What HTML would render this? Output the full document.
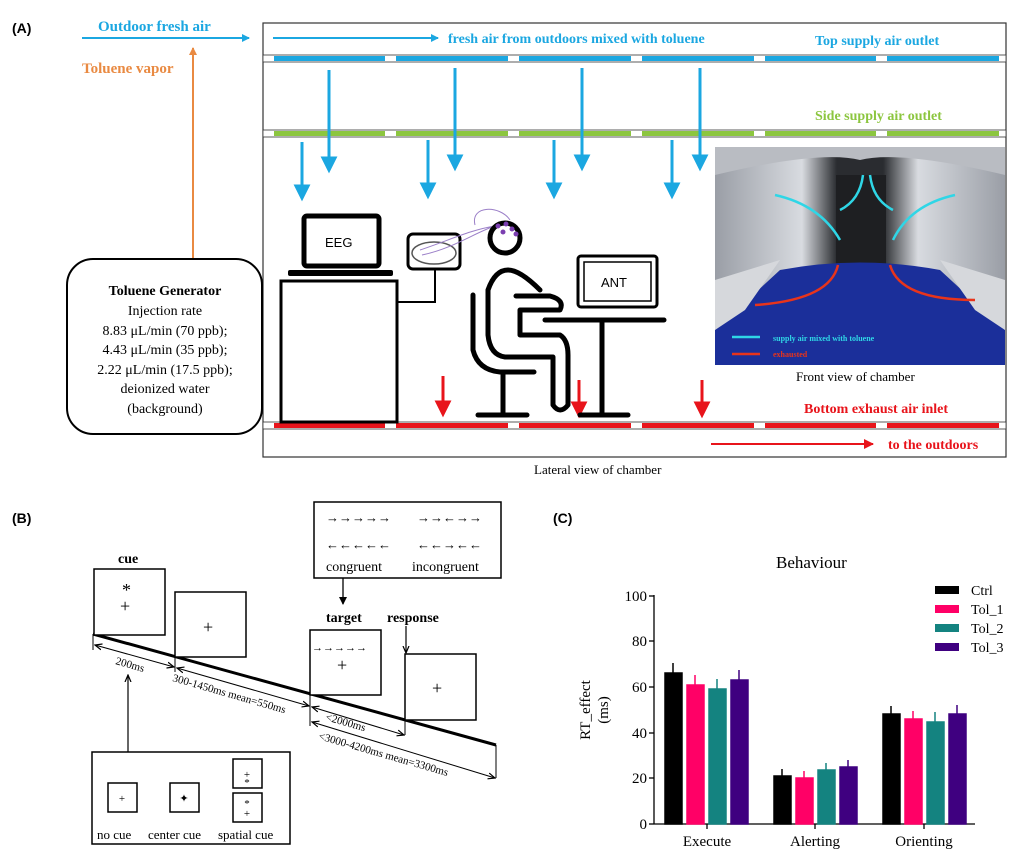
<!DOCTYPE html>
<html><head><meta charset="utf-8"><style>
body{margin:0;background:#fff}
svg{display:block}
text{font-family:"Liberation Serif",serif}
</style></head><body>
<svg width="1024" height="856" viewBox="0 0 1024 856" xmlns="http://www.w3.org/2000/svg">
<defs>
<marker id="ab" markerWidth="8" markerHeight="8" refX="7" refY="4" orient="auto" markerUnits="userSpaceOnUse"><path d="M0,0L8,4L0,8z" fill="#1ba7e1"/></marker>
<marker id="ar" markerWidth="10" markerHeight="10" refX="9" refY="5" orient="auto" markerUnits="userSpaceOnUse"><path d="M0,0L10,5L0,10z" fill="#e8141b"/></marker>
<marker id="ao" markerWidth="8" markerHeight="8" refX="7" refY="4" orient="auto" markerUnits="userSpaceOnUse"><path d="M0,0L8,4L0,8z" fill="#e98a42"/></marker>
<marker id="ak" markerWidth="8" markerHeight="8" refX="7" refY="4" orient="auto-start-reverse" markerUnits="userSpaceOnUse"><path d="M0,1L7,4L0,7" fill="none" stroke="#000" stroke-width="1.2"/></marker>
<marker id="ak2" markerWidth="8" markerHeight="8" refX="7" refY="4" orient="auto" markerUnits="userSpaceOnUse"><path d="M0,0L8,4L0,8z" fill="#000"/></marker>
<linearGradient id="wall" x1="0" x2="1"><stop offset="0" stop-color="#9a9ea6"/><stop offset=".3" stop-color="#d8dbe0"/><stop offset=".42" stop-color="#2a2c30"/><stop offset=".58" stop-color="#2a2c30"/><stop offset=".7" stop-color="#d8dbe0"/><stop offset="1" stop-color="#9a9ea6"/></linearGradient>
</defs>
<!-- Panel A -->
<text x="12" y="33" font-weight="bold" font-size="14" style="font-family:'Liberation Sans',sans-serif">(A)</text>
<text x="98" y="31" font-weight="bold" font-size="15" fill="#1ba7e1">Outdoor fresh air</text>
<line x1="82" y1="38" x2="249" y2="38" stroke="#1ba7e1" stroke-width="2" marker-end="url(#ab)"/>
<text x="82" y="73" font-weight="bold" font-size="15" fill="#e98a42">Toluene vapor</text>
<line x1="193" y1="259" x2="193" y2="48" stroke="#e98a42" stroke-width="2" marker-end="url(#ao)"/>
<rect x="263" y="23" width="743" height="434" fill="none" stroke="#333" stroke-width="1.2"/>
<line x1="273" y1="38" x2="438" y2="38" stroke="#1ba7e1" stroke-width="2" marker-end="url(#ab)"/>
<text x="448" y="43" font-weight="bold" font-size="14" fill="#1ba7e1">fresh air from outdoors mixed with toluene</text>
<text x="815" y="45" font-weight="bold" font-size="14" fill="#1ba7e1">Top supply air outlet</text>
<text x="815" y="120" font-weight="bold" font-size="14" fill="#8cc63f">Side supply air outlet</text>
<text x="804" y="413" font-weight="bold" font-size="14" fill="#e8141b">Bottom exhaust air inlet</text>
<line x1="711" y1="444" x2="873" y2="444" stroke="#e8141b" stroke-width="2" marker-end="url(#ar)"/>
<text x="888" y="449" font-weight="bold" font-size="14" fill="#e8141b">to the outdoors</text>
<text x="534" y="474" font-size="13">Lateral view of chamber</text>
<g stroke="#333" stroke-width="0.8">
<rect x="263" y="55" width="743" height="7" fill="#fff"/>
<rect x="263" y="130" width="743" height="7" fill="#fff"/>
<rect x="263" y="422" width="743" height="7" fill="#fff"/>
</g>
<g>
<rect x="274" y="56" width="111" height="5" fill="#1ba7e1"/><rect x="396" y="56" width="112" height="5" fill="#1ba7e1"/><rect x="519" y="56" width="112" height="5" fill="#1ba7e1"/><rect x="642" y="56" width="112" height="5" fill="#1ba7e1"/><rect x="765" y="56" width="111" height="5" fill="#1ba7e1"/><rect x="887" y="56" width="112" height="5" fill="#1ba7e1"/>
<rect x="274" y="131" width="111" height="5" fill="#8cc63f"/><rect x="396" y="131" width="112" height="5" fill="#8cc63f"/><rect x="519" y="131" width="112" height="5" fill="#8cc63f"/><rect x="642" y="131" width="112" height="5" fill="#8cc63f"/><rect x="765" y="131" width="111" height="5" fill="#8cc63f"/><rect x="887" y="131" width="112" height="5" fill="#8cc63f"/>
<rect x="274" y="423" width="111" height="5" fill="#e8141b"/><rect x="396" y="423" width="112" height="5" fill="#e8141b"/><rect x="519" y="423" width="112" height="5" fill="#e8141b"/><rect x="642" y="423" width="112" height="5" fill="#e8141b"/><rect x="765" y="423" width="111" height="5" fill="#e8141b"/><rect x="887" y="423" width="112" height="5" fill="#e8141b"/>
</g>
<g stroke="#1ba7e1" stroke-width="3" fill="#1ba7e1">
<line x1="329" y1="70" x2="329" y2="160"/><path d="M323,158L335,158L329,170z"/>
<line x1="455" y1="68" x2="455" y2="158"/><path d="M449,156L461,156L455,168z"/>
<line x1="582" y1="68" x2="582" y2="158"/><path d="M576,156L588,156L582,168z"/>
<line x1="700" y1="68" x2="700" y2="158"/><path d="M694,156L706,156L700,168z"/>
<line x1="302" y1="142" x2="302" y2="188"/><path d="M296,186L308,186L302,198z"/>
<line x1="428" y1="140" x2="428" y2="186"/><path d="M422,184L434,184L428,196z"/>
<line x1="554" y1="140" x2="554" y2="186"/><path d="M548,184L560,184L554,196z"/>
<line x1="672" y1="140" x2="672" y2="186"/><path d="M666,184L678,184L672,196z"/>
</g>
<g stroke="#e8141b" stroke-width="3" fill="#e8141b">
<line x1="329" y1="376" x2="329" y2="404"/><path d="M323,402L335,402L329,414z"/>
<line x1="443" y1="376" x2="443" y2="404"/><path d="M437,402L449,402L443,414z"/>
<line x1="579" y1="380" x2="579" y2="405"/><path d="M573,403L585,403L579,415z"/>
<line x1="702" y1="380" x2="702" y2="405"/><path d="M696,403L708,403L702,415z"/>
</g>
<rect x="304" y="216" width="75" height="50" rx="3" fill="#fff" stroke="#000" stroke-width="5"/>
<text x="325" y="247" font-size="13" style="font-family:'Liberation Sans',sans-serif">EEG</text>
<rect x="288" y="270" width="105" height="6" rx="2" fill="#000"/>
<rect x="281" y="281" width="116" height="141" fill="#fff" stroke="#000" stroke-width="3"/>
<polyline points="397,302 435,302 435,270" fill="none" stroke="#000" stroke-width="2"/>
<rect x="408" y="234" width="52" height="35" rx="5" fill="#fff" stroke="#000" stroke-width="3"/>
<ellipse cx="434" cy="253" rx="22" ry="11" fill="none" stroke="#555" stroke-width="1.5"/>
<path d="M420,250 C450,240 470,230 495,226 M422,255 C455,248 475,232 500,224 M475,225 C470,205 500,205 510,220" fill="none" stroke="#9b7fc8" stroke-width="1"/>
<circle cx="505" cy="238" r="15" fill="#fff" stroke="#000" stroke-width="5"/>
<g fill="#7b3fb0"><circle cx="498" cy="226" r="2.5"/><circle cx="506" cy="224" r="2.5"/><circle cx="512" cy="229" r="2.5"/><circle cx="503" cy="232" r="2.5"/><circle cx="516" cy="234" r="2.5"/></g>
<g fill="none" stroke="#000" stroke-width="5" stroke-linecap="round" stroke-linejoin="round">
<path d="M516,296 L550,296 Q565,300 560,310 L520,310 L520,335 L560,335 Q568,340 568,355 L568,405 Q560,415 553,405 L553,357 L505,357 Q490,355 488,335 L488,290 Q495,270 508,270 Q520,270 540,290"/>
<path d="M473,295 L473,350 Q478,370 500,372 L534,372"/>
<line x1="503" y1="374" x2="503" y2="413"/>
<line x1="478" y1="415" x2="527" y2="415"/>
<line x1="545" y1="320" x2="664" y2="320"/>
<line x1="602" y1="322" x2="602" y2="413"/>
<line x1="580" y1="415" x2="628" y2="415"/>
</g>
<rect x="578" y="256" width="79" height="51" rx="3" fill="#fff" stroke="#000" stroke-width="3"/>
<rect x="584" y="262" width="67" height="39" fill="#fff" stroke="#000" stroke-width="1.5"/>
<text x="601" y="287" font-size="13" style="font-family:'Liberation Sans',sans-serif">ANT</text>
<!-- photo -->
<rect x="715" y="147" width="290" height="218" fill="url(#wall)"/>
<path d="M715,147 L1005,147 L1005,175 Q900,150 860,160 Q820,150 715,175z" fill="#b9bcc2"/>
<rect x="836" y="175" width="50" height="95" fill="#1e1f22"/>
<path d="M715,365 L715,330 L780,270 Q860,255 940,270 L1005,330 L1005,365z" fill="#1b2f9a"/>
<path d="M715,280 L780,260 L745,310 L715,330z" fill="#d6d8dc"/>
<path d="M1005,280 L940,260 L975,310 L1005,330z" fill="#d6d8dc"/>
<g fill="none" stroke="#2fd6e6" stroke-width="2.5">
<path d="M863,175 Q860,200 840,210"/><path d="M870,175 Q873,200 893,210"/>
<path d="M775,195 Q820,205 840,240"/><path d="M955,195 Q910,205 893,240"/>
<line x1="732" y1="337" x2="760" y2="337"/>
</g>
<g fill="none" stroke="#e8341b" stroke-width="2.5">
<path d="M838,265 Q830,300 755,305"/><path d="M890,265 Q900,300 975,300"/>
<line x1="732" y1="354" x2="760" y2="354"/>
</g>
<text x="773" y="341" font-size="8" font-weight="bold" fill="#2fd6e6">supply air mixed with toluene</text>
<text x="773" y="357" font-size="8" font-weight="bold" fill="#e8341b">exhausted</text>
<text x="796" y="381" font-size="13">Front view of chamber</text>
<rect x="67" y="259" width="195" height="175" rx="26" fill="#fff" stroke="#000" stroke-width="2"/>
<text x="165" y="295" text-anchor="middle" font-weight="bold" font-size="14">Toluene Generator</text>
<g font-size="14" text-anchor="middle">
<text x="165" y="315">Injection rate</text>
<text x="165" y="335">8.83 μL/min (70 ppb);</text>
<text x="165" y="354">4.43 μL/min (35 ppb);</text>
<text x="165" y="374">2.22 μL/min (17.5 ppb);</text>
<text x="165" y="393">deionized water</text>
<text x="165" y="413">(background)</text>
</g>
<!-- Panel B -->
<text x="12" y="523" font-weight="bold" font-size="14" style="font-family:'Liberation Sans',sans-serif">(B)</text>
<rect x="314" y="502" width="187" height="76" fill="#fff" stroke="#000" stroke-width="1.5"/>
<g font-size="13" font-weight="bold">
<text x="326" y="522">→→→→→</text><text x="417" y="522">→→←→→</text>
<text x="326" y="549">←←←←←</text><text x="417" y="549">←←→←←</text>
</g>
<g font-size="14"><text x="326" y="571">congruent</text><text x="412" y="571">incongruent</text></g>
<line x1="343" y1="578" x2="343" y2="604" stroke="#000" stroke-width="1.3" marker-end="url(#ak2)"/>
<text x="118" y="563" font-weight="bold" font-size="14">cue</text>
<text x="326" y="622" font-weight="bold" font-size="14">target</text>
<text x="387" y="622" font-weight="bold" font-size="14">response</text>
<line x1="406" y1="626" x2="406" y2="653" stroke="#000" stroke-width="1.2" marker-end="url(#ak)"/>
<line x1="93" y1="634" x2="496" y2="745" stroke="#000" stroke-width="3"/>
<g fill="#fff" stroke="#000" stroke-width="1.5">
<rect x="94" y="569" width="71" height="66"/>
<rect x="175" y="592" width="71" height="65"/>
<rect x="310" y="630" width="71" height="65"/>
<rect x="405" y="654" width="71" height="66"/>
</g>
<g font-size="18"><text x="122" y="596">*</text><text x="120" y="612">+</text><text x="203" y="633">+</text><text x="337" y="671">+</text><text x="432" y="694">+</text></g>
<text x="312" y="651" font-size="11" font-weight="bold">→→→→→</text>
<g stroke="#000" stroke-width="1">
<line x1="93" y1="634" x2="93" y2="650"/><line x1="175" y1="657" x2="175" y2="672"/><line x1="310" y1="695" x2="310" y2="726"/><line x1="405" y1="719" x2="405" y2="735"/><line x1="496" y1="745" x2="496" y2="778"/>
<line x1="95" y1="645" x2="174" y2="667" marker-end="url(#ak)" marker-start="url(#ak)"/>
<line x1="177" y1="668" x2="309" y2="706" marker-end="url(#ak)" marker-start="url(#ak)"/>
<line x1="312" y1="707" x2="404" y2="735" marker-end="url(#ak)" marker-start="url(#ak)"/>
<line x1="312" y1="722" x2="495" y2="778" marker-end="url(#ak)" marker-start="url(#ak)"/>
</g>
<g font-size="11">
<text x="115" y="664" transform="rotate(16 115 664)">200ms</text>
<text x="172" y="681" transform="rotate(16 172 681)">300-1450ms  mean=550ms</text>
<text x="325" y="720" transform="rotate(16 325 720)">&lt;2000ms</text>
<text x="318" y="739" transform="rotate(16 318 739)">&lt;3000-4200ms  mean=3300ms</text>
</g>
<line x1="128" y1="752" x2="128" y2="675" stroke="#000" stroke-width="1.2" marker-end="url(#ak)"/>
<rect x="92" y="752" width="198" height="92" fill="#fff" stroke="#000" stroke-width="1.5"/>
<g fill="#fff" stroke="#000" stroke-width="1.5">
<rect x="108" y="783" width="29" height="29"/><rect x="170" y="783" width="29" height="29"/><rect x="233" y="759" width="29" height="29"/><rect x="233" y="793" width="29" height="29"/>
</g>
<g font-size="11" text-anchor="middle"><text x="122" y="802">+</text><text x="184" y="802">✦</text><text x="247" y="778">+</text><text x="247" y="786">*</text><text x="247" y="807">*</text><text x="247" y="817">+</text></g>
<g font-size="13"><text x="97" y="839">no cue</text><text x="148" y="839">center cue</text><text x="218" y="839">spatial cue</text></g>
<!-- Panel C -->
<text x="553" y="523" font-weight="bold" font-size="14" style="font-family:'Liberation Sans',sans-serif">(C)</text>
<text x="776" y="568" font-size="17">Behaviour</text>
<text x="590" y="710" font-size="15" text-anchor="middle" transform="rotate(-90 590 710)">RT_effect</text>
<text x="608" y="710" font-size="15" text-anchor="middle" transform="rotate(-90 608 710)">(ms)</text>
<g stroke="#000" stroke-width="1.3">
<line x1="654" y1="595" x2="654" y2="824"/><line x1="654" y1="824" x2="975" y2="824"/>
<line x1="649" y1="596" x2="654" y2="596"/><line x1="649" y1="641" x2="654" y2="641"/><line x1="649" y1="687" x2="654" y2="687"/><line x1="649" y1="733" x2="654" y2="733"/><line x1="649" y1="778" x2="654" y2="778"/><line x1="649" y1="824" x2="654" y2="824"/>
<line x1="707" y1="824" x2="707" y2="829"/><line x1="815" y1="824" x2="815" y2="829"/><line x1="924" y1="824" x2="924" y2="829"/>
</g>
<g font-size="15" text-anchor="end"><text x="647" y="601">100</text><text x="647" y="646">80</text><text x="647" y="692">60</text><text x="647" y="738">40</text><text x="647" y="783">20</text><text x="647" y="829">0</text></g>
<g font-size="15" text-anchor="middle"><text x="707" y="846">Execute</text><text x="815" y="846">Alerting</text><text x="924" y="846">Orienting</text></g>
<g stroke-width="1.5">
<g fill="#000" stroke="#000"><rect x="665" y="673" width="17" height="151"/><rect x="774" y="776" width="17" height="48"/><rect x="883" y="714" width="17" height="110"/><line x1="673" y1="673" x2="673" y2="663"/><line x1="782" y1="776" x2="782" y2="769"/><line x1="891" y1="714" x2="891" y2="706"/></g>
<g fill="#ff0066" stroke="#ff0066"><rect x="687" y="685" width="17" height="139"/><rect x="796" y="778" width="17" height="46"/><rect x="905" y="719" width="17" height="105"/><line x1="695" y1="685" x2="695" y2="675"/><line x1="804" y1="778" x2="804" y2="771"/><line x1="913" y1="719" x2="913" y2="711"/></g>
<g fill="#148380" stroke="#148380"><rect x="709" y="689" width="17" height="135"/><rect x="818" y="770" width="17" height="54"/><rect x="927" y="722" width="17" height="102"/><line x1="717" y1="689" x2="717" y2="679"/><line x1="826" y1="770" x2="826" y2="763"/><line x1="935" y1="722" x2="935" y2="712"/></g>
<g fill="#3f0080" stroke="#3f0080"><rect x="731" y="680" width="17" height="144"/><rect x="840" y="767" width="17" height="57"/><rect x="949" y="714" width="17" height="110"/><line x1="739" y1="680" x2="739" y2="670"/><line x1="848" y1="767" x2="848" y2="760"/><line x1="957" y1="714" x2="957" y2="705"/></g>
</g>
<rect x="935" y="586" width="24" height="8" fill="#000"/><rect x="935" y="605" width="24" height="8" fill="#ff0066"/><rect x="935" y="624" width="24" height="8" fill="#148380"/><rect x="935" y="643" width="24" height="8" fill="#3f0080"/>
<g font-size="14"><text x="971" y="595">Ctrl</text><text x="971" y="614">Tol_1</text><text x="971" y="633">Tol_2</text><text x="971" y="652">Tol_3</text></g>
</svg>
</body></html>
